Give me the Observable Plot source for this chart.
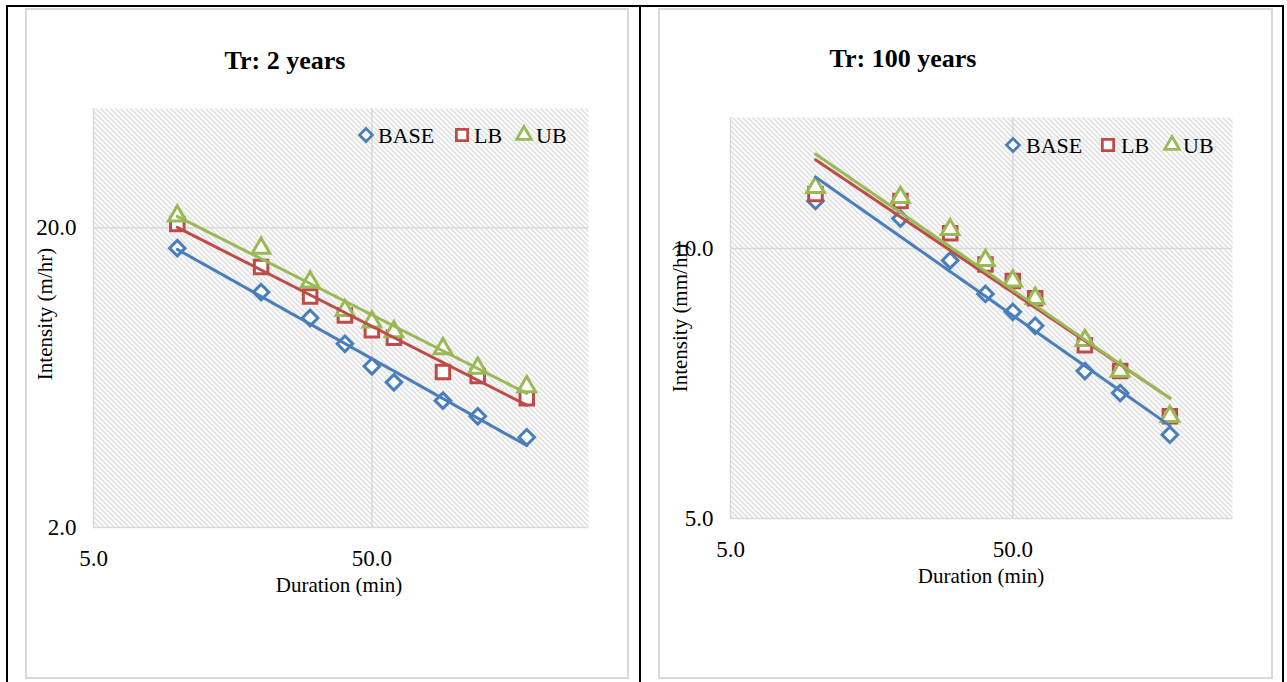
<!DOCTYPE html>
<html><head><meta charset="utf-8">
<script src="https://cdn.jsdelivr.net/npm/d3@7"></script>
<script src="https://cdn.jsdelivr.net/npm/@observablehq/plot@0.6"></script>
<style>
html,body{margin:0;padding:0;background:#fff;}
body{width:1287px;height:682px;overflow:hidden;position:relative;font-family:"Liberation Serif","Times New Roman",serif;}
.abs{position:absolute;box-sizing:border-box;}
</style></head><body>
<script>
// ---- data ----
const durations = [10, 20, 30, 40, 50, 60, 90, 120, 180];
const seriesNames = ["BASE", "LB", "UB"];
const tr2Base = [17.1, 12.2, 10.0, 8.2, 6.9, 6.1, 5.3, 4.7, 4.0];
const tr2LB   = [20.6, 14.8, 11.8, 10.2, 9.1, 8.6, 6.6, 6.4, 5.4];
const tr2UB   = [21.9, 17.1, 13.2, 10.6, 9.7, 9.0, 7.9, 6.8, 5.9];
const tr100Base = [11.3, 10.8, 9.7, 8.9, 8.5, 8.2, 7.3, 6.9, 6.2];
const tr100LB   = [11.5, 11.3, 10.4, 9.6, 9.2, 8.8, 7.8, 7.3, 6.5];
const tr100UB   = [11.7, 11.4, 10.5, 9.7, 9.2, 8.8, 7.9, 7.3, 6.5];
const xTicks = [5, 50];
const yTicks2 = [2, 20];
const yTicks100 = [5, 10];
const xDomain = [5, 300];
const yDomain2 = [2, 50];
const yDomain100 = [5, 14];

// ---- styles ----
const colors = {BASE: "#4a7ebb", LB: "#be4b48", UB: "#98b954"};
const symbols = {BASE: "diamond2", LB: "square2", UB: "triangle2"};
const radii = {BASE: 7, LB: 8.6, UB: 8.4};
const fmt = d3.format(".1f");

function fitPower(xs, ys) {
  const lx = xs.map(Math.log), ly = ys.map(Math.log);
  const mx = d3.mean(lx), my = d3.mean(ly);
  const b = d3.sum(lx, (v, i) => (v - mx) * (ly[i] - my)) / d3.sum(lx, v => (v - mx) ** 2);
  const a = my - b * mx;
  return x => Math.exp(a + b * Math.log(x));
}

function makePanel(o) {
  const rows = [], trend = [];
  o.series.forEach(s => {
    durations.forEach((d, i) => rows.push({series: s.name, duration: d, intensity: s.values[i]}));
    const f = fitPower(durations, s.values);
    d3.extent(durations).forEach(x => trend.push({series: s.name, duration: x, intensity: f(x)}));
  });
  const svg = Plot.plot({
    width: o.width, height: o.height,
    marginLeft: o.ml, marginRight: o.mr, marginTop: o.mt, marginBottom: o.mb,
    style: {fontFamily: "Liberation Serif, Times New Roman, serif", fontSize: "23px", color: "#000", background: "transparent", overflow: "visible"},
    x: {type: "log", domain: xDomain, ticks: xTicks, tickFormat: fmt, tickSize: 0, tickPadding: 22, label: null},
    y: {type: "log", domain: o.yDomain, ticks: o.yTicks, tickFormat: fmt, tickSize: 0, tickPadding: 17, label: null},
    marks: [
      Plot.frame({fill: `url(#${o.id}-hatch)`, stroke: "none"}),
      Plot.gridX(xTicks, {stroke: "#d9d9d9", strokeOpacity: 1, strokeWidth: 1.5}),
      Plot.gridY(o.yTicks, {stroke: "#d9d9d9", strokeOpacity: 1, strokeWidth: 1.5}),
      ...seriesNames.map(n => Plot.dot(rows.filter(r => r.series === n), {
        x: "duration", y: "intensity", symbol: symbols[n], r: radii[n],
        stroke: colors[n], fill: "white", strokeWidth: 3
      })),
      ...seriesNames.map(n => Plot.line(trend.filter(r => r.series === n), {
        x: "duration", y: "intensity", stroke: colors[n], strokeWidth: 3
      }))
    ]
  });
  d3.select(svg).selectAll('g[aria-label$="tick label"]')
    .attr("font-size", 23).style("font-size", "23px")
    .attr("font-family", "Liberation Serif, Times New Roman, serif");
  const defs = d3.select(svg).insert("defs", ":first-child");
  const p = defs.append("pattern").attr("id", `${o.id}-hatch`)
    .attr("patternUnits", "userSpaceOnUse").attr("width", 5).attr("height", 5);
  p.append("rect").attr("width", 5).attr("height", 5).attr("fill", "#fff");
  p.append("path").attr("d", "M-1,-1L6,6M-1,4L1,6M4,-1L6,1")
    .attr("stroke", "#cdcdcd").attr("stroke-width", 1.1).attr("fill", "none");
  svg.style.position = "absolute";
  svg.style.left = o.left + "px";
  svg.style.top = o.top + "px";
  return svg;
}

function div(css) {
  const d = document.createElement("div");
  d.className = "abs";
  Object.assign(d.style, css);
  document.body.appendChild(d);
  return d;
}

// table borders
div({left: "6px", top: "5px", width: "1278px", height: "720px", border: "2px solid #000"});
div({left: "639px", top: "5px", width: "2px", height: "720px", background: "#000"});

// panels
document.body.appendChild(makePanel({
  id: "p2", left: 26, top: 9, width: 602, height: 668, ml: 67, mr: 40, mt: 99, mb: 150,
  yDomain: yDomain2, yTicks: yTicks2,
  series: [{name: "BASE", values: tr2Base}, {name: "LB", values: tr2LB}, {name: "UB", values: tr2UB}]
}));
document.body.appendChild(makePanel({
  id: "p100", left: 659, top: 9, width: 613, height: 668, ml: 71, mr: 40, mt: 108, mb: 159,
  yDomain: yDomain100, yTicks: yTicks100,
  series: [{name: "BASE", values: tr100Base}, {name: "LB", values: tr100LB}, {name: "UB", values: tr100UB}]
}));

// chart frames
div({left: "25px", top: "8px", width: "604px", height: "671px", border: "2px solid #d9d9d9"});
div({left: "658px", top: "8px", width: "615px", height: "671px", border: "2px solid #d9d9d9"});

// overlay: titles, axis titles, legends
const ov = d3.select(document.body).append("svg")
  .attr("width", 1287).attr("height", 682)
  .style("position", "absolute").style("left", "0px").style("top", "0px")
  .style("pointer-events", "none")
  .style("font-family", "Liberation Serif, Times New Roman, serif");

ov.append("text").attr("x", 285).attr("y", 69).attr("text-anchor", "middle")
  .attr("font-size", 26).attr("font-weight", "bold").text("Tr: 2 years");
ov.append("text").attr("x", 903).attr("y", 67).attr("text-anchor", "middle")
  .attr("font-size", 26).attr("font-weight", "bold").text("Tr: 100 years");

ov.append("text").attr("x", 339).attr("y", 592).attr("text-anchor", "middle")
  .attr("font-size", 21).text("Duration (min)");
ov.append("text").attr("x", 981).attr("y", 583).attr("text-anchor", "middle")
  .attr("font-size", 21).text("Duration (min)");

ov.append("text").attr("transform", "translate(52,314) rotate(-90)").attr("text-anchor", "middle")
  .attr("font-size", 21).text("Intensity (m/hr)");
ov.append("text").attr("transform", "translate(687,318) rotate(-90)").attr("text-anchor", "middle")
  .attr("font-size", 21).text("Intensity (mm/hr)");

function legend(items, cy) {
  items.forEach(it => {
    const n = it.name;
    const size = Math.PI * radii[n] * radii[n] * 0.7;
    const sym = {diamond2: d3.symbolDiamond2, square2: d3.symbolSquare2, triangle2: d3.symbolTriangle2}[symbols[n]];
    ov.append("path").attr("d", d3.symbol(sym, size)())
      .attr("transform", `translate(${it.sx},${cy})`)
      .attr("fill", "white").attr("stroke", colors[n]).attr("stroke-width", 2.75);
    ov.append("text").attr("x", it.tx).attr("y", cy + 8).attr("font-size", 22).text(n);
  });
}
legend([{name: "BASE", sx: 366, tx: 378}, {name: "LB", sx: 462, tx: 474}, {name: "UB", sx: 524, tx: 536}], 135);
legend([{name: "BASE", sx: 1013, tx: 1026}, {name: "LB", sx: 1108, tx: 1121}, {name: "UB", sx: 1172, tx: 1183}], 145);
</script>
</body></html>
